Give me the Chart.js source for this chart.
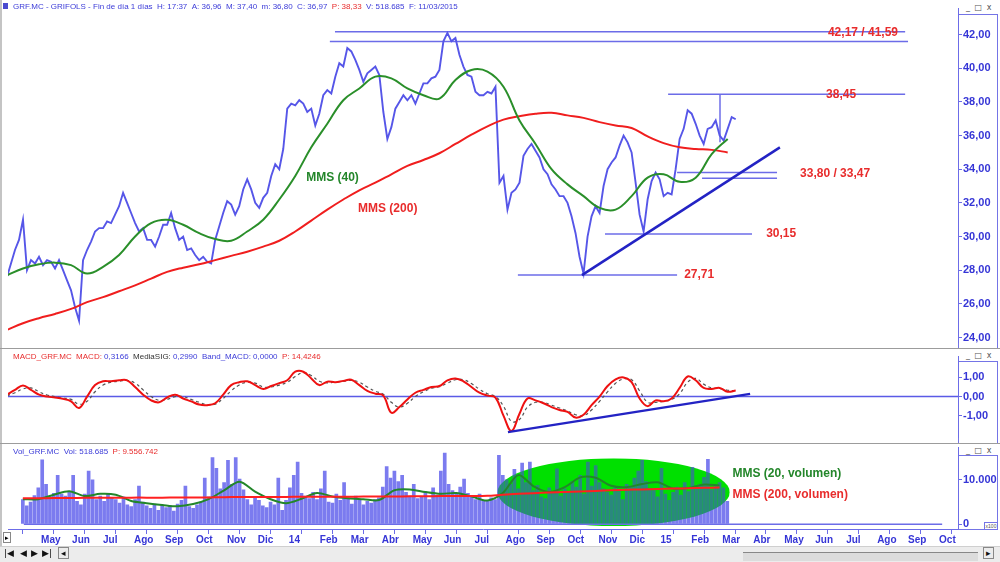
<!DOCTYPE html>
<html>
<head>
<meta charset="utf-8">
<script src="https://cdn.jsdelivr.net/npm/chart.js@4"></script>
<style>
html, body { margin: 0; padding: 0; background: #fff; }
#frame { position: relative; width: 1000px; height: 562px; overflow: hidden; background: #fff; font-family: "Liberation Sans", Arial, sans-serif; }
canvas { position: absolute; left: 0; }
.box { position: absolute; left: 958px; width: 40px; border: 1px solid #7474e6; box-sizing: border-box; }
.hdr { position: absolute; left: 13px; font-size: 8px; white-space: nowrap; color: #3b3bd8; z-index: 5; }
.red { color: #e82c2c; }
.blk { color: #333; }
.ctl { position: absolute; left: 966px; font-size: 8px; color: #555; letter-spacing: 1px; font-family: "DejaVu Sans", sans-serif; }
.sep { position: absolute; left: 0; width: 1000px; height: 1px; background: #9c9c9c; }
#btns { position: absolute; left: 0; top: 546px; width: 1000px; height: 16px; background: #ececec; border-top: 1px solid #cfcfcf; }
#btns span { position: absolute; top: 1px; font-size: 9px; font-family: "DejaVu Sans", sans-serif; color: #111; }
</style>
</head>
<body>
<div id="frame">
  <div style="position:absolute;left:0;top:0;width:2px;height:562px;background:#c4c4c4"></div>
  <div style="position:absolute;left:3px;top:3px;width:5px;height:6px;background:#4a4ad0"></div>
  <div class="hdr" style="top:2px">GRF.MC - GRIFOLS - Fin de día 1 días &nbsp;H: 17:37 &nbsp;A: 36,96 &nbsp;M: 37,40 &nbsp;m: 36,80 &nbsp;C: 36,97 &nbsp;<span class="red">P: 38,33</span> &nbsp;V: 518.685 &nbsp;F: 11/03/2015</div>
  <div class="hdr" style="top:352px"><span class="red">MACD_GRF.MC &nbsp;MACD:</span> 0,3166 &nbsp;<span class="blk">MediaSIG:</span> 0,2990 &nbsp;Band_MACD: 0,0000 &nbsp;<span class="red">P: 14,4246</span></div>
  <div class="hdr" style="top:447px">Vol_GRF.MC &nbsp;Vol: 518.685 &nbsp;<span class="red">P: 9.556.742</span></div>

  <div class="box" style="top:14px;height:335px"></div>
  <div class="box" style="top:361px;height:83px"></div>
  <div class="box" style="top:455px;height:75px"></div>
  <div class="ctl" style="top:3px">_ □ x</div>
  <div class="ctl" style="top:351px">_ □ x</div>
  <div class="ctl" style="top:446px">_ □ x</div>
  <div style="position:absolute;left:984px;top:522px;width:12px;height:6px;border:1px solid #7474e6;font-size:5px;color:#555;line-height:6px;text-align:center">x100</div>

  <div class="sep" style="top:348px"></div>
  <div class="sep" style="top:443px"></div>

  <canvas id="price" width="1000" height="350" style="top:0"></canvas>
  <canvas id="macd" width="1000" height="96" style="top:349px"></canvas>
  <canvas id="vol" width="1000" height="106" style="top:440px"></canvas>

  <div style="position:absolute;left:3px;top:532px;width:6px;height:9px;border:1px solid #888;font-size:7px;line-height:9px;text-align:center">▸</div>
  <div id="btns">
    <span style="left:4px">|◀</span><span style="left:20px">◀</span><span style="left:31px">▶</span><span style="left:42px">▶|</span>
    <span style="left:58px;border:1px solid #888;padding:0 2px;top:0">◂</span>
    <div style="position:absolute;left:743px;top:5px;width:235px;height:8px;border-top:1px solid #888;background:#dcdcdc"></div>
    <span style="left:983px;border:1px solid #888;padding:0 2px;top:0">▸</span>
  </div>
</div>

<script>
// x axis unit = month index, 0 = May 2013
const months = ['May', 'Jun', 'Jul', 'Ago', 'Sep', 'Oct', 'Nov', 'Dic', '14', 'Feb', 'Mar', 'Abr',
  'May', 'Jun', 'Jul', 'Ago', 'Sep', 'Oct', 'Nov', 'Dic', '15', 'Feb', 'Mar', 'Abr',
  'May', 'Jun', 'Jul', 'Ago', 'Sep', 'Oct'];

const priceTicks = [24, 26, 28, 30, 32, 34, 36, 38, 40, 42];
const macdTicks = [-1, 0, 1];
const volTicks = [0, 10000];

// closing prices, sampled every 1/8 month from -0.5
const price = [
  27.6, 28.4, 29.2, 29.8, 31.0, 28.0, 28.6, 28.4, 28.8, 28.3,
  28.6, 28.5, 28.1, 28.6, 28.0, 27.4, 26.8, 25.8, 25.0, 28.6,
  29.2, 29.7, 30.3, 30.5, 30.5, 30.9, 30.8, 31.3, 31.8, 32.6,
  32.0, 31.4, 30.8, 30.3, 30.5, 29.8, 29.8, 29.4, 30.0, 30.7,
  30.7, 31.4, 30.5, 29.8, 30.0, 29.2, 29.3, 28.9, 28.6, 28.8,
  28.5, 28.4, 29.8, 30.6, 31.4, 32.1, 31.9, 31.3, 31.8, 32.8,
  33.4, 32.8, 32.0, 31.7, 32.3, 32.6, 33.6, 34.3, 34.0, 35.2,
  37.6, 37.9, 37.8, 38.1, 37.9, 37.4, 37.6, 36.6, 37.3, 38.4,
  38.7, 38.5, 39.5, 40.3, 40.1, 41.2, 41.0, 40.5, 39.9, 39.2,
  39.7, 39.9, 40.1, 39.6, 37.4, 35.8, 36.5, 37.6, 38.0, 38.4,
  38.1, 38.4, 37.9, 38.5, 39.1, 39.1, 39.4, 39.5, 39.9, 41.6,
  42.1, 41.6, 41.8, 40.8, 40.1, 39.6, 39.5, 38.6, 38.4, 38.4,
  38.6, 38.5, 38.9, 33.2, 33.6, 31.6, 32.6, 32.8, 33.2, 34.8,
  35.2, 35.5, 35.1, 34.7, 34.0, 33.7, 33.1, 32.8, 32.4, 32.4,
  32.0, 31.2, 30.2, 28.8, 27.8, 30.0, 31.2, 31.8, 31.4, 33.0,
  34.0, 34.4, 34.7, 35.4, 36.0, 35.6, 35.0, 33.2, 31.3, 30.3,
  32.2, 33.3, 33.8, 33.4, 32.4, 32.6, 32.5, 34.0, 35.8, 36.4,
  37.5, 37.3, 36.7, 36.0, 35.5, 36.4, 36.5, 36.9, 36.0, 35.7,
  36.4, 37.1, 36.97
];

// moving averages, every 1/2 month from -0.5
const mms40 = [
  27.7, 28.1, 28.35, 28.45, 28.3, 27.8, 28.2, 28.9, 30.0, 30.8,
  31.0, 30.7, 30.2, 29.85, 29.75, 30.3, 31.0, 32.2, 33.6, 35.3,
  36.7, 38.1, 38.8, 39.5, 39.4, 38.8, 38.4, 38.2, 39.3, 39.9,
  39.8, 38.9, 36.9, 35.5, 34.0, 33.1, 32.4, 31.7, 31.6, 32.4,
  33.5, 33.7, 33.25, 33.5, 34.9, 35.8
];
const mms200 = [
  24.45, 24.85, 25.15, 25.4, 25.7, 26.1, 26.4, 26.75, 27.1, 27.5,
  27.9, 28.15, 28.35, 28.6, 28.85, 29.1, 29.4, 29.75, 30.3, 30.95,
  31.6, 32.2, 32.75, 33.2, 33.7, 34.2, 34.55, 34.95, 35.5, 36.05,
  36.55, 36.95, 37.15, 37.3, 37.35, 37.2, 37.05, 36.8, 36.6, 36.45,
  35.95, 35.55, 35.3, 35.2, 35.15, 35.0
];

// MACD and signal, every 1/4 month from -0.5
const macd = [
  0.1, 0.35, 0.58, 0.35, 0.1, 0.0, -0.05, -0.12, -0.25, -0.6,
  0.0, 0.6, 0.8, 0.8, 0.85, 0.85, 0.5, 0.1, -0.2, -0.3,
  -0.05, 0.1, -0.1, -0.25, -0.42, -0.45, -0.35, 0.1, 0.6, 0.75,
  0.8, 0.6, 0.4, 0.55, 0.7, 0.85, 1.3, 1.3, 0.95, 0.6,
  0.78, 0.75, 0.82, 0.88, 0.6, 0.3, 0.15, 0.05, -0.85, -0.55,
  -0.15, 0.2, 0.35, 0.5, 0.55, 0.85, 0.95, 0.8, 0.5, 0.2,
  0.05, -0.05, -1.0, -1.8, -0.9, -0.1, -0.2, -0.35, -0.55, -0.7,
  -0.8, -1.1, -0.95, -0.45, 0.0, 0.55, 0.9, 1.0, 0.75, -0.1,
  -0.5, -0.2, -0.25, -0.1, 0.45, 1.05, 0.85, 0.45, 0.4, 0.45,
  0.25, 0.32
];
const signal = [
  0.05, 0.2, 0.4, 0.45, 0.25, 0.08, 0.0, -0.07, -0.15, -0.4,
  -0.25, 0.25, 0.6, 0.75, 0.8, 0.85, 0.7, 0.35, 0.0, -0.2,
  -0.15, 0.0, 0.0, -0.15, -0.3, -0.42, -0.4, -0.1, 0.3, 0.6,
  0.75, 0.7, 0.5, 0.5, 0.6, 0.75, 1.05, 1.25, 1.1, 0.8,
  0.72, 0.76, 0.8, 0.85, 0.75, 0.5, 0.28, 0.12, -0.3, -0.55,
  -0.35, 0.0, 0.25, 0.42, 0.52, 0.7, 0.88, 0.88, 0.68, 0.38,
  0.15, 0.0, -0.5, -1.3, -1.2, -0.55, -0.3, -0.3, -0.45, -0.6,
  -0.75, -0.95, -1.0, -0.7, -0.25, 0.25, 0.7, 0.92, 0.88, 0.3,
  -0.3, -0.3, -0.25, -0.15, 0.15, 0.75, 0.95, 0.65, 0.45, 0.42,
  0.33, 0.3
];

// volume, every 1/8 month from -0.5
const volume = [
  5600, 4200, 5000, 6500, 8200, 14500, 9000, 6200, 7000, 11000,
  6800, 6400, 7200, 11000, 5200, 4400, 6800, 12000, 10000, 5600,
  6400, 5200, 7000, 6000, 5600, 4800, 6200, 4400, 4000, 5600,
  8600, 5000, 4200, 3600, 4600, 3200, 4400, 3800, 4200, 3000,
  4600, 5400, 8600, 4000, 3600, 4400, 5000, 10400, 6200, 15000,
  12600, 8000, 9400, 14400, 9000, 15000, 10200, 7800, 5600, 4400,
  6000, 5400, 4200, 3800, 5000, 4400, 10400, 3200, 5400, 8200,
  11000, 14000, 7000, 6400, 5800, 7200, 5600, 8000, 12000, 5000,
  4800, 6800, 5400, 9400, 6000, 4600, 6400, 5600, 4400, 5200,
  4800, 5600, 6000, 8400, 13000, 10400, 12000, 9600, 11000, 7200,
  6400, 9000, 5800, 6200, 7400, 5600, 8200, 6600, 12000, 16000,
  9000, 7600, 6800, 8400, 10200, 7000, 6200, 5600, 6800, 5400,
  5200, 6000, 5600, 15500, 11000, 10000, 9000, 12400, 8000, 13800,
  9400, 14000, 7600, 8800, 6200, 5800, 8200, 7000, 12500, 6400,
  8000, 7200, 9600, 8400, 11000, 6800, 14000, 8600, 13200, 9400,
  8000, 7200, 6600, 8200, 7400, 5600, 9000, 8600, 10400, 12000,
  14400, 9600, 8000, 7600, 6200, 12600, 6800, 5400, 7200, 8400,
  6600, 9400, 7400, 12800, 8200, 9000, 10600, 14600, 7800, 8600,
  9400, 8200, 5200
];
// volume averages, every 1/2 month from -0.5
const volMms20 = [
  5600, 5600, 6600, 7400, 6300, 6800, 6600, 5200, 4700, 4300,
  4000, 4500, 5600, 7600, 9500, 7300, 5600, 4700, 5700, 7000,
  6200, 5800, 5600, 5400, 7600, 7800, 7200, 6800, 7000, 6200,
  5300, 7000, 11000, 8500, 7200, 8300, 10500, 10400, 8600, 8300,
  9000, 9400, 8000, 8100, 8900, 8700
];
const volMms200 = [
  5800, 5800, 5850, 5850, 5900, 5900, 5900, 5950, 5950, 5950,
  6000, 6000, 6000, 6050, 6100, 6100, 6100, 6100, 6150, 6150,
  6150, 6150, 6200, 6200, 6200, 6250, 6250, 6300, 6300, 6300,
  6350, 6600, 6800, 6950, 7100, 7200, 7350, 7450, 7600, 7700,
  7800, 7900, 8000, 8050, 8150, 8200
];

// drawn support / resistance levels (month from, month to, price)
const levels = [
  [9.74, 27.54, 42.17], [9.58, 27.63, 41.59], [20.14, 27.54, 38.45],
  [20.42, 23.54, 33.80], [21.2, 23.54, 33.47], [18.17, 22.76, 30.15],
  [15.45, 20.42, 27.71]
];
const priceTrend = [[17.45, 27.71], [23.63, 35.3]];
const highBar = [[21.76, 38.45], [21.76, 35.6]];
const macdTrend = [[15.14, -1.86], [22.7, 0.14]];

const RED = '#e82c2c', GREEN = '#23862a', BLUE = '#3535d6', LINE = '#6c6ce8';
const priceNotes = [
  { text: '42,17 / 41,59', x: 25.13, y: 42.1, color: RED },
  { text: '38,45', x: 25.07, y: 38.45, color: RED },
  { text: '33,80 / 33,47', x: 24.26, y: 33.75, color: RED },
  { text: '30,15', x: 23.2, y: 30.15, color: RED },
  { text: '27,71', x: 20.64, y: 27.71, color: RED },
  { text: 'MMS (40)', x: 8.84, y: 33.5, color: GREEN },
  { text: 'MMS (200)', x: 10.46, y: 31.65, color: RED }
];
const volNotes = [
  { text: 'MMS (20, volumen)', x: 22.42, y: 11300, color: GREEN },
  { text: 'MMS (200, volumen)', x: 22.42, y: 6500, color: RED }
];
const volEllipse = { x: 18.58, y: 7170, rx: 3.75, ry: 7600 };

const xMin = -0.468, xMax = 29.19;

function series(values, start, step) {
  return values.map((v, i) => ({ x: start + i * step, y: v }));
}
function pts(list) {
  return list.map(p => ({ x: p[0], y: p[1] }));
}
const comma = v => v.toFixed(2).replace('.', ',');
const thousands = v => String(v).replace(/\B(?=(\d{3})+(?!\d))/g, '.');

function rightAxis(ticks, fmt, min, max) {
  return {
    position: 'right', min: min, max: max,
    afterFit: s => { s.width = 42; },
    afterBuildTicks: s => { s.ticks = ticks.map(v => ({ value: v })); },
    grid: { drawOnChartArea: false, tickLength: 4, color: LINE },
    border: { color: LINE },
    ticks: { callback: fmt, padding: 1, color: BLUE, font: { family: 'Liberation Sans', weight: 'bold', size: 11 } }
  };
}

function notesPlugin(notes) {
  return {
    id: 'notes',
    afterDatasetsDraw(chart) {
      const { ctx, scales: { x, y } } = chart;
      ctx.save();
      ctx.font = 'bold 12px "Liberation Sans", Arial, sans-serif';
      ctx.textBaseline = 'middle';
      notes.forEach(n => {
        ctx.fillStyle = n.color;
        ctx.fillText(n.text, x.getPixelForValue(n.x), y.getPixelForValue(n.y));
      });
      ctx.restore();
    }
  };
}

const baseOptions = {
  responsive: false,
  animation: false,
  events: [],
  elements: { point: { radius: 0 }, line: { fill: false } },
  plugins: { legend: { display: false }, tooltip: { enabled: false } }
};

// Price panel
new Chart(document.getElementById('price'), {
  type: 'line',
  data: {
    datasets: [
      { data: series(price, -0.5, 0.125), borderColor: '#5656e8', borderWidth: 1.9, order: 3 },
      { data: series(mms40, -0.5, 0.5), borderColor: '#2a8f2a', borderWidth: 2, tension: 0.4, order: 1 },
      { data: series(mms200, -0.5, 0.5), borderColor: '#f01e1e', borderWidth: 2, tension: 0.4, order: 1 },
      ...levels.map(l => ({ data: [{ x: l[0], y: l[2] }, { x: l[1], y: l[2] }], borderColor: LINE, borderWidth: 1.5, order: 4 })),
      { data: pts(highBar), borderColor: LINE, borderWidth: 1.5, order: 4 },
      { data: pts(priceTrend), borderColor: '#2323c4', borderWidth: 2.5, order: 0 }
    ]
  },
  options: {
    ...baseOptions,
    layout: { padding: { left: 8, top: 8, bottom: 2 } },
    scales: {
      x: { type: 'linear', min: xMin, max: xMax, display: false },
      y: rightAxis(priceTicks, comma, 23.71, 43.58)
    }
  },
  plugins: [notesPlugin(priceNotes)]
});

// MACD panel
new Chart(document.getElementById('macd'), {
  type: 'line',
  data: {
    datasets: [
      { data: series(macd, -0.5, 0.25), borderColor: '#ee1111', borderWidth: 2, tension: 0.4, order: 1 },
      { data: series(signal, -0.5, 0.25), borderColor: '#555', borderWidth: 1.2, borderDash: [3, 3], tension: 0.4, order: 2 },
      { data: [{ x: xMin, y: 0 }, { x: xMax, y: 0 }], borderColor: '#5a5ae6', borderWidth: 1.5, order: 3 },
      { data: pts(macdTrend), borderColor: '#2323c4', borderWidth: 2.5, order: 0 }
    ]
  },
  options: {
    ...baseOptions,
    layout: { padding: { left: 8, top: 1, bottom: 2 } },
    scales: {
      x: { type: 'linear', min: xMin, max: xMax, display: false },
      y: rightAxis(macdTicks, comma, -2.136, 2.09)
    }
  }
});

// Volume panel, green ellipse tints the bars it covers
const ellipsePlugin = {
  id: 'ellipse',
  afterDatasetDraw(chart, args) {
    if (args.index !== 0) return;
    const { ctx, scales: { x, y } } = chart;
    const cx = x.getPixelForValue(volEllipse.x), cy = y.getPixelForValue(volEllipse.y);
    const rx = x.getPixelForValue(volEllipse.x + volEllipse.rx) - cx;
    const ry = cy - y.getPixelForValue(volEllipse.y + volEllipse.ry);
    ctx.save();
    ctx.beginPath();
    ctx.ellipse(cx, cy, rx, ry, 0, 0, Math.PI * 2);
    ctx.clip();
    ctx.globalCompositeOperation = 'source-atop';
    ctx.fillStyle = '#2a887e';
    ctx.fillRect(cx - rx, cy - ry, rx * 2, ry * 2);
    ctx.globalCompositeOperation = 'destination-over';
    ctx.fillStyle = '#00e000';
    ctx.fillRect(cx - rx, cy - ry, rx * 2, ry * 2);
    ctx.restore();
  }
};

new Chart(document.getElementById('vol'), {
  type: 'bar',
  data: {
    datasets: [
      { type: 'bar', data: series(volume, -0.5, 0.125), backgroundColor: '#7b7bef', barPercentage: 0.95, categoryPercentage: 1, order: 5 },
      { type: 'line', data: series(volMms20, -0.5, 0.5), borderColor: GREEN, borderWidth: 2, tension: 0.3, order: 2 },
      { type: 'line', data: series(volMms200, -0.5, 0.5), borderColor: '#ff2020', borderWidth: 2, tension: 0.3, order: 1 },
      { type: 'line', data: [{ x: xMin, y: 0 }, { x: xMax, y: 0 }], borderColor: LINE, borderWidth: 1.5, order: 3 }
    ]
  },
  options: {
    ...baseOptions,
    layout: { padding: { left: 8, top: 5 } },
    scales: {
      x: {
        type: 'linear', min: xMin, max: xMax, position: 'bottom',
        afterFit: s => { s.height = 17; },
        afterBuildTicks: s => { s.ticks = months.map((m, i) => ({ value: i })); },
        grid: { drawOnChartArea: false, tickLength: 5, color: LINE },
        border: { color: LINE },
        ticks: {
          callback: v => ' ' + months[v],
          align: 'start', padding: 0, maxRotation: 0, autoSkip: false,
          color: BLUE, font: { family: 'Liberation Sans', weight: 'bold', size: 10 }
        }
      },
      y: rightAxis(volTicks, thousands, -1087, 17174)
    }
  },
  plugins: [ellipsePlugin, notesPlugin(volNotes)]
});
</script>
</body>
</html>
